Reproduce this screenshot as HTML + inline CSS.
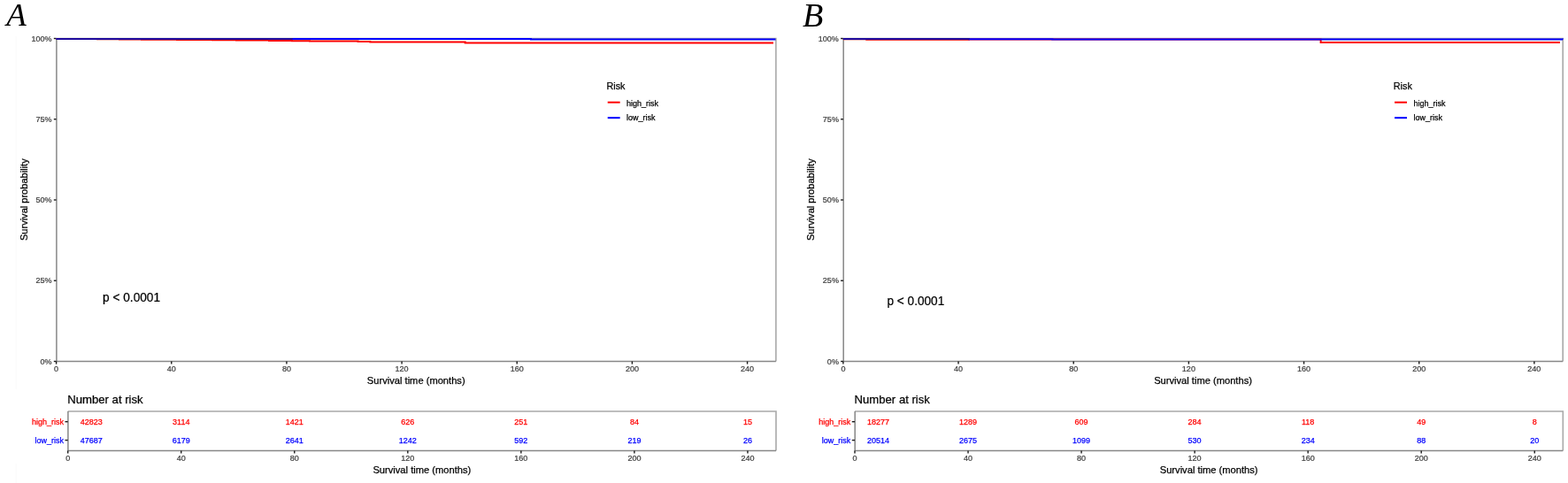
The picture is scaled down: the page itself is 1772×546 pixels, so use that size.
<!DOCTYPE html>
<html><head><meta charset="utf-8"><title>Kaplan-Meier survival curves</title>
<style>
html,body{margin:0;padding:0;background:#fff;}
body{width:1772px;height:546px;overflow:hidden;}
svg{display:block;}
text{font-family:"Liberation Sans",Arial,sans-serif;stroke-width:0.25px;stroke-linejoin:round;}
text.let{font-family:"Liberation Serif","Times New Roman",serif;font-style:italic;}
</style></head>
<body>
<svg width="1772" height="546" viewBox="0 0 1772 546">
<rect width="1772" height="546" fill="#fff"/>
<path d="M18 41V440M18 524V546" stroke="#fafafa" stroke-width="1"/>
<text stroke="#000" x="31" y="225.7" font-size="11.05" text-anchor="middle" transform="rotate(-90 31 225.7)" fill="#000">Survival probability</text>
<text x="7.3" y="29.2" class="let" font-size="36.8" fill="#000">A</text>
<path d="M63.6 43.5H876.9V408.5" fill="none" stroke="#a9a9a9" stroke-width="1.6"/>
<path d="M63.9 43.5V408.5H876.9" fill="none" stroke="#878787" stroke-width="1.5"/>
<path d="M60.8 408.5H63.6" stroke="#1a1a1a" stroke-width="1.4"/>
<text stroke="#404040" transform="translate(58.6 411.5) scale(0.93 1)" font-size="9.7" text-anchor="end" fill="#404040">0%</text>
<path d="M60.8 317.25H63.6" stroke="#1a1a1a" stroke-width="1.4"/>
<text stroke="#404040" transform="translate(58.6 320.25) scale(0.93 1)" font-size="9.7" text-anchor="end" fill="#404040">25%</text>
<path d="M60.8 226H63.6" stroke="#1a1a1a" stroke-width="1.4"/>
<text stroke="#404040" transform="translate(58.6 229) scale(0.93 1)" font-size="9.7" text-anchor="end" fill="#404040">50%</text>
<path d="M60.8 134.75H63.6" stroke="#1a1a1a" stroke-width="1.4"/>
<text stroke="#404040" transform="translate(58.6 137.75) scale(0.93 1)" font-size="9.7" text-anchor="end" fill="#404040">75%</text>
<path d="M60.8 43.5H63.6" stroke="#1a1a1a" stroke-width="1.4"/>
<text stroke="#404040" transform="translate(58.6 46.5) scale(0.93 1)" font-size="9.7" text-anchor="end" fill="#404040">100%</text>
<path d="M63.6 408.5V411.6" stroke="#1a1a1a" stroke-width="1.4"/>
<text stroke="#404040" transform="translate(63.6 420.4) scale(0.93 1)" font-size="9.7" text-anchor="middle" fill="#404040">0</text>
<path d="M193.76 408.5V411.6" stroke="#1a1a1a" stroke-width="1.4"/>
<text stroke="#404040" transform="translate(193.76 420.4) scale(0.93 1)" font-size="9.7" text-anchor="middle" fill="#404040">40</text>
<path d="M323.92 408.5V411.6" stroke="#1a1a1a" stroke-width="1.4"/>
<text stroke="#404040" transform="translate(323.92 420.4) scale(0.93 1)" font-size="9.7" text-anchor="middle" fill="#404040">80</text>
<path d="M454.08 408.5V411.6" stroke="#1a1a1a" stroke-width="1.4"/>
<text stroke="#404040" transform="translate(454.08 420.4) scale(0.93 1)" font-size="9.7" text-anchor="middle" fill="#404040">120</text>
<path d="M584.24 408.5V411.6" stroke="#1a1a1a" stroke-width="1.4"/>
<text stroke="#404040" transform="translate(584.24 420.4) scale(0.93 1)" font-size="9.7" text-anchor="middle" fill="#404040">160</text>
<path d="M714.4 408.5V411.6" stroke="#1a1a1a" stroke-width="1.4"/>
<text stroke="#404040" transform="translate(714.4 420.4) scale(0.93 1)" font-size="9.7" text-anchor="middle" fill="#404040">200</text>
<path d="M844.56 408.5V411.6" stroke="#1a1a1a" stroke-width="1.4"/>
<text stroke="#404040" transform="translate(844.56 420.4) scale(0.93 1)" font-size="9.7" text-anchor="middle" fill="#404040">240</text>
<text stroke="#000" x="470.25" y="434.4" font-size="11.15" text-anchor="middle" fill="#000">Survival time (months)</text>
<path d="M63.6 44 L90 44 L90 44.1 L110 44.1 L110 44.3 L135 44.3 L135 44.5 L160 44.5 L160 44.8 L200 44.8 L200 45 L240 45 L240 45.3 L267 45.3 L267 45.5 L304 45.5 L304 46 L330 46 L330 46.2 L350 46.2 L350 46.4 L380 46.4 L380 46.6 L404.6 46.6 L404.6 47 L418.3 47 L418.3 47.5 L525.7 47.5 L525.7 48.4 L874 48.4 L874 48.4" fill="none" stroke="#ff0000" stroke-width="2.0" stroke-linejoin="miter"/>
<path d="M63.6 44 L330 44 L330 44.1 L600 44.1 L600 44.6 L876.5 44.6 L876.5 44.6" fill="none" stroke="#0000ff" stroke-width="2.0" stroke-linejoin="miter"/>
<path d="M63.6 44 L330 44 L330 44.1 L330 44.1" fill="none" stroke="#1e0a9c" stroke-width="2.0" stroke-linejoin="miter"/>
<text stroke="#000" x="685.5" y="100.5" font-size="10.8" fill="#000">Risk</text>
<path d="M686.7 115.7H700.7" stroke="#ff0000" stroke-width="2"/>
<text stroke="#000" x="708.1" y="119.7" font-size="9.0" fill="#000">high_risk</text>
<path d="M686.7 133.2H700.7" stroke="#0000ff" stroke-width="2"/>
<text stroke="#000" x="708.1" y="136.4" font-size="9.0" fill="#000">low_risk</text>
<text stroke="#000" transform="translate(116.1 341) scale(0.917 1)" font-size="14.9" fill="#000">p &lt; 0.0001</text>
<text stroke="#000" x="76.2" y="456.2" font-size="13.15" fill="#000">Number at risk</text>
<path d="M76.7 465H877V509.5" fill="none" stroke="#a9a9a9" stroke-width="1.6"/>
<path d="M76.9 465V509.5H877" fill="none" stroke="#878787" stroke-width="1.5"/>
<path d="M73.5 476.7H76.7" stroke="#1a1a1a" stroke-width="1.4"/>
<text stroke="#ff0000" x="72" y="479.9" font-size="9.0" text-anchor="end" fill="#ff0000">high_risk</text>
<text stroke="#ff0000" x="103.2" y="480.2" font-size="9.0" text-anchor="middle" fill="#ff0000">42823</text>
<text stroke="#ff0000" x="204.74" y="480.2" font-size="9.0" text-anchor="middle" fill="#ff0000">3114</text>
<text stroke="#ff0000" x="332.78" y="480.2" font-size="9.0" text-anchor="middle" fill="#ff0000">1421</text>
<text stroke="#ff0000" x="460.82" y="480.2" font-size="9.0" text-anchor="middle" fill="#ff0000">626</text>
<text stroke="#ff0000" x="588.86" y="480.2" font-size="9.0" text-anchor="middle" fill="#ff0000">251</text>
<text stroke="#ff0000" x="716.9" y="480.2" font-size="9.0" text-anchor="middle" fill="#ff0000">84</text>
<text stroke="#ff0000" x="844.94" y="480.2" font-size="9.0" text-anchor="middle" fill="#ff0000">15</text>
<path d="M73.5 497.6H76.7" stroke="#1a1a1a" stroke-width="1.4"/>
<text stroke="#0000ff" x="72" y="500.8" font-size="9.0" text-anchor="end" fill="#0000ff">low_risk</text>
<text stroke="#0000ff" x="103.2" y="501.1" font-size="9.0" text-anchor="middle" fill="#0000ff">47687</text>
<text stroke="#0000ff" x="204.74" y="501.1" font-size="9.0" text-anchor="middle" fill="#0000ff">6179</text>
<text stroke="#0000ff" x="332.78" y="501.1" font-size="9.0" text-anchor="middle" fill="#0000ff">2641</text>
<text stroke="#0000ff" x="460.82" y="501.1" font-size="9.0" text-anchor="middle" fill="#0000ff">1242</text>
<text stroke="#0000ff" x="588.86" y="501.1" font-size="9.0" text-anchor="middle" fill="#0000ff">592</text>
<text stroke="#0000ff" x="716.9" y="501.1" font-size="9.0" text-anchor="middle" fill="#0000ff">219</text>
<text stroke="#0000ff" x="844.94" y="501.1" font-size="9.0" text-anchor="middle" fill="#0000ff">26</text>
<path d="M76.7 509.5V512.6" stroke="#1a1a1a" stroke-width="1.4"/>
<text stroke="#404040" transform="translate(76.7 520.8) scale(0.93 1)" font-size="9.7" text-anchor="middle" fill="#404040">0</text>
<path d="M204.74 509.5V512.6" stroke="#1a1a1a" stroke-width="1.4"/>
<text stroke="#404040" transform="translate(204.74 520.8) scale(0.93 1)" font-size="9.7" text-anchor="middle" fill="#404040">40</text>
<path d="M332.78 509.5V512.6" stroke="#1a1a1a" stroke-width="1.4"/>
<text stroke="#404040" transform="translate(332.78 520.8) scale(0.93 1)" font-size="9.7" text-anchor="middle" fill="#404040">80</text>
<path d="M460.82 509.5V512.6" stroke="#1a1a1a" stroke-width="1.4"/>
<text stroke="#404040" transform="translate(460.82 520.8) scale(0.93 1)" font-size="9.7" text-anchor="middle" fill="#404040">120</text>
<path d="M588.86 509.5V512.6" stroke="#1a1a1a" stroke-width="1.4"/>
<text stroke="#404040" transform="translate(588.86 520.8) scale(0.93 1)" font-size="9.7" text-anchor="middle" fill="#404040">160</text>
<path d="M716.9 509.5V512.6" stroke="#1a1a1a" stroke-width="1.4"/>
<text stroke="#404040" transform="translate(716.9 520.8) scale(0.93 1)" font-size="9.7" text-anchor="middle" fill="#404040">200</text>
<path d="M844.94 509.5V512.6" stroke="#1a1a1a" stroke-width="1.4"/>
<text stroke="#404040" transform="translate(844.94 520.8) scale(0.93 1)" font-size="9.7" text-anchor="middle" fill="#404040">240</text>
<text stroke="#000" x="476.85" y="535" font-size="11.15" text-anchor="middle" fill="#000">Survival time (months)</text>
<text stroke="#000" x="920.3" y="225.7" font-size="11.05" text-anchor="middle" transform="rotate(-90 920.3 225.7)" fill="#000">Survival probability</text>
<text x="907.1" y="29.6" class="let" font-size="38.2" fill="#000">B</text>
<path d="M952.9 43.5H1766.2V408.5" fill="none" stroke="#a9a9a9" stroke-width="1.6"/>
<path d="M953.2 43.5V408.5H1766.2" fill="none" stroke="#878787" stroke-width="1.5"/>
<path d="M950.1 408.5H952.9" stroke="#1a1a1a" stroke-width="1.4"/>
<text stroke="#404040" transform="translate(947.9 411.5) scale(0.93 1)" font-size="9.7" text-anchor="end" fill="#404040">0%</text>
<path d="M950.1 317.25H952.9" stroke="#1a1a1a" stroke-width="1.4"/>
<text stroke="#404040" transform="translate(947.9 320.25) scale(0.93 1)" font-size="9.7" text-anchor="end" fill="#404040">25%</text>
<path d="M950.1 226H952.9" stroke="#1a1a1a" stroke-width="1.4"/>
<text stroke="#404040" transform="translate(947.9 229) scale(0.93 1)" font-size="9.7" text-anchor="end" fill="#404040">50%</text>
<path d="M950.1 134.75H952.9" stroke="#1a1a1a" stroke-width="1.4"/>
<text stroke="#404040" transform="translate(947.9 137.75) scale(0.93 1)" font-size="9.7" text-anchor="end" fill="#404040">75%</text>
<path d="M950.1 43.5H952.9" stroke="#1a1a1a" stroke-width="1.4"/>
<text stroke="#404040" transform="translate(947.9 46.5) scale(0.93 1)" font-size="9.7" text-anchor="end" fill="#404040">100%</text>
<path d="M952.9 408.5V411.6" stroke="#1a1a1a" stroke-width="1.4"/>
<text stroke="#404040" transform="translate(952.9 420.4) scale(0.93 1)" font-size="9.7" text-anchor="middle" fill="#404040">0</text>
<path d="M1083.06 408.5V411.6" stroke="#1a1a1a" stroke-width="1.4"/>
<text stroke="#404040" transform="translate(1083.06 420.4) scale(0.93 1)" font-size="9.7" text-anchor="middle" fill="#404040">40</text>
<path d="M1213.22 408.5V411.6" stroke="#1a1a1a" stroke-width="1.4"/>
<text stroke="#404040" transform="translate(1213.22 420.4) scale(0.93 1)" font-size="9.7" text-anchor="middle" fill="#404040">80</text>
<path d="M1343.38 408.5V411.6" stroke="#1a1a1a" stroke-width="1.4"/>
<text stroke="#404040" transform="translate(1343.38 420.4) scale(0.93 1)" font-size="9.7" text-anchor="middle" fill="#404040">120</text>
<path d="M1473.54 408.5V411.6" stroke="#1a1a1a" stroke-width="1.4"/>
<text stroke="#404040" transform="translate(1473.54 420.4) scale(0.93 1)" font-size="9.7" text-anchor="middle" fill="#404040">160</text>
<path d="M1603.7 408.5V411.6" stroke="#1a1a1a" stroke-width="1.4"/>
<text stroke="#404040" transform="translate(1603.7 420.4) scale(0.93 1)" font-size="9.7" text-anchor="middle" fill="#404040">200</text>
<path d="M1733.86 408.5V411.6" stroke="#1a1a1a" stroke-width="1.4"/>
<text stroke="#404040" transform="translate(1733.86 420.4) scale(0.93 1)" font-size="9.7" text-anchor="middle" fill="#404040">240</text>
<text stroke="#000" x="1359.55" y="434.4" font-size="11.15" text-anchor="middle" fill="#000">Survival time (months)</text>
<path d="M952.9 44.2 L979.3 44.2 L979.3 44.7 L1095 44.7 L1095 44.5 L1180.3 44.5 L1180.3 44.4 L1492.6 44.4 L1492.6 48.1 L1763 48.1 L1763 48.1" fill="none" stroke="#ff0000" stroke-width="2.0" stroke-linejoin="miter"/>
<path d="M952.9 44 L1095 44 L1095 44.2 L1189.3 44.2 L1189.3 44.4 L1766 44.4 L1766 44.5" fill="none" stroke="#0000ff" stroke-width="2.0" stroke-linejoin="miter"/>
<path d="M952.9 44 L1095 44 L1095 44.2 L1095 44.2" fill="none" stroke="#1e0a9c" stroke-width="2.0" stroke-linejoin="miter"/>
<text stroke="#000" x="1574.8" y="100.5" font-size="10.8" fill="#000">Risk</text>
<path d="M1576 115.7H1590" stroke="#ff0000" stroke-width="2"/>
<text stroke="#000" x="1597.4" y="119.7" font-size="9.0" fill="#000">high_risk</text>
<path d="M1576 133.2H1590" stroke="#0000ff" stroke-width="2"/>
<text stroke="#000" x="1597.4" y="136.4" font-size="9.0" fill="#000">low_risk</text>
<text stroke="#000" transform="translate(1002.4 344.5) scale(0.917 1)" font-size="14.9" fill="#000">p &lt; 0.0001</text>
<text stroke="#000" x="965.5" y="456.2" font-size="13.15" fill="#000">Number at risk</text>
<path d="M966 465H1766.3V509.5" fill="none" stroke="#a9a9a9" stroke-width="1.6"/>
<path d="M966.2 465V509.5H1766.3" fill="none" stroke="#878787" stroke-width="1.5"/>
<path d="M962.8 476.7H966" stroke="#1a1a1a" stroke-width="1.4"/>
<text stroke="#ff0000" x="961.3" y="479.9" font-size="9.0" text-anchor="end" fill="#ff0000">high_risk</text>
<text stroke="#ff0000" x="992.5" y="480.2" font-size="9.0" text-anchor="middle" fill="#ff0000">18277</text>
<text stroke="#ff0000" x="1094.04" y="480.2" font-size="9.0" text-anchor="middle" fill="#ff0000">1289</text>
<text stroke="#ff0000" x="1222.08" y="480.2" font-size="9.0" text-anchor="middle" fill="#ff0000">609</text>
<text stroke="#ff0000" x="1350.12" y="480.2" font-size="9.0" text-anchor="middle" fill="#ff0000">284</text>
<text stroke="#ff0000" x="1478.16" y="480.2" font-size="9.0" text-anchor="middle" fill="#ff0000">118</text>
<text stroke="#ff0000" x="1606.2" y="480.2" font-size="9.0" text-anchor="middle" fill="#ff0000">49</text>
<text stroke="#ff0000" x="1734.24" y="480.2" font-size="9.0" text-anchor="middle" fill="#ff0000">8</text>
<path d="M962.8 497.6H966" stroke="#1a1a1a" stroke-width="1.4"/>
<text stroke="#0000ff" x="961.3" y="500.8" font-size="9.0" text-anchor="end" fill="#0000ff">low_risk</text>
<text stroke="#0000ff" x="992.5" y="501.1" font-size="9.0" text-anchor="middle" fill="#0000ff">20514</text>
<text stroke="#0000ff" x="1094.04" y="501.1" font-size="9.0" text-anchor="middle" fill="#0000ff">2675</text>
<text stroke="#0000ff" x="1222.08" y="501.1" font-size="9.0" text-anchor="middle" fill="#0000ff">1099</text>
<text stroke="#0000ff" x="1350.12" y="501.1" font-size="9.0" text-anchor="middle" fill="#0000ff">530</text>
<text stroke="#0000ff" x="1478.16" y="501.1" font-size="9.0" text-anchor="middle" fill="#0000ff">234</text>
<text stroke="#0000ff" x="1606.2" y="501.1" font-size="9.0" text-anchor="middle" fill="#0000ff">88</text>
<text stroke="#0000ff" x="1734.24" y="501.1" font-size="9.0" text-anchor="middle" fill="#0000ff">20</text>
<path d="M966 509.5V512.6" stroke="#1a1a1a" stroke-width="1.4"/>
<text stroke="#404040" transform="translate(966 520.8) scale(0.93 1)" font-size="9.7" text-anchor="middle" fill="#404040">0</text>
<path d="M1094.04 509.5V512.6" stroke="#1a1a1a" stroke-width="1.4"/>
<text stroke="#404040" transform="translate(1094.04 520.8) scale(0.93 1)" font-size="9.7" text-anchor="middle" fill="#404040">40</text>
<path d="M1222.08 509.5V512.6" stroke="#1a1a1a" stroke-width="1.4"/>
<text stroke="#404040" transform="translate(1222.08 520.8) scale(0.93 1)" font-size="9.7" text-anchor="middle" fill="#404040">80</text>
<path d="M1350.12 509.5V512.6" stroke="#1a1a1a" stroke-width="1.4"/>
<text stroke="#404040" transform="translate(1350.12 520.8) scale(0.93 1)" font-size="9.7" text-anchor="middle" fill="#404040">120</text>
<path d="M1478.16 509.5V512.6" stroke="#1a1a1a" stroke-width="1.4"/>
<text stroke="#404040" transform="translate(1478.16 520.8) scale(0.93 1)" font-size="9.7" text-anchor="middle" fill="#404040">160</text>
<path d="M1606.2 509.5V512.6" stroke="#1a1a1a" stroke-width="1.4"/>
<text stroke="#404040" transform="translate(1606.2 520.8) scale(0.93 1)" font-size="9.7" text-anchor="middle" fill="#404040">200</text>
<path d="M1734.24 509.5V512.6" stroke="#1a1a1a" stroke-width="1.4"/>
<text stroke="#404040" transform="translate(1734.24 520.8) scale(0.93 1)" font-size="9.7" text-anchor="middle" fill="#404040">240</text>
<text stroke="#000" x="1366.15" y="535" font-size="11.15" text-anchor="middle" fill="#000">Survival time (months)</text>
</svg>
</body></html>
